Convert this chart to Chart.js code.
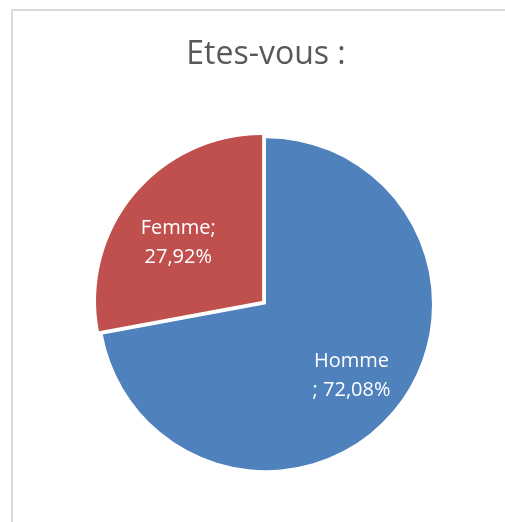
<!DOCTYPE html>
<html lang="fr">
<head>
<meta charset="utf-8">
<title>Etes-vous :</title>
<script src="https://cdn.jsdelivr.net/npm/chart.js@4.4.1/dist/chart.umd.min.js"></script>
<style>
  html, body { margin: 0; padding: 0; background: #ffffff; }
  #wrap { position: relative; width: 505px; height: 522px; overflow: hidden; }
  #frame {
    position: absolute; left: 11px; top: 9px; width: 600px; height: 600px;
    border: 2px solid #d9d9d9; box-sizing: border-box;
  }
  #c { position: absolute; left: 0; top: 0; }
</style>
</head>
<body>
<div id="wrap">
  <div id="frame"></div>
  <canvas id="c" width="505" height="522"></canvas>
</div>
<script>
// Survey answers: gender split in percent
const categories = ['Homme', 'Femme'];
const shares = [72.08, 27.92];
const sliceColors = ['#4F81BD', '#C0504D'];
const pulledOut = [0, 20];            // Femme slice is pulled away from the centre
const labelLines = [['Homme', '; 72,08%'], ['Femme;', '27,92%']];

// label placement inside each slice: distance as a fraction of the radius, and a small turn in degrees
const labelDepth = [0.67, 0.615];
const labelTurn = [0, -5];

// Writes "category; value" labels inside each slice
const sliceLabels = {
  id: 'sliceLabels',
  afterDatasetsDraw(chart) {
    const ctx = chart.ctx;
    const meta = chart.getDatasetMeta(0);
    ctx.save();
    ctx.fillStyle = '#ffffff';
    ctx.font = '20px "Open Sans", Lato, sans-serif';
    ctx.textAlign = 'center';
    ctx.textBaseline = 'middle';
    meta.data.forEach((arc, i) => {
      const p = arc.getProps(['x', 'y', 'startAngle', 'endAngle', 'outerRadius'], true);
      const mid = (p.startAngle + p.endAngle) / 2;
      const shift = (pulledOut[i] || 0) / 4;
      const sx = p.x + Math.cos(mid) * shift;
      const sy = p.y + Math.sin(mid) * shift;
      const a = mid + labelTurn[i] * Math.PI / 180;
      const d = p.outerRadius * labelDepth[i];
      const cx = sx + Math.cos(a) * d;
      const cy = sy + Math.sin(a) * d;
      const lines = labelLines[i];
      const lh = 29;
      lines.forEach((t, k) => {
        ctx.fillText(t, cx, cy + (k - (lines.length - 1) / 2) * lh);
      });
    });
    ctx.restore();
  }
};

new Chart(document.getElementById('c'), {
  type: 'pie',
  data: {
    labels: categories,
    datasets: [{
      data: shares,
      backgroundColor: sliceColors,
      borderWidth: 0,
      offset: pulledOut,
      radius: 166
    }]
  },
  options: {
    responsive: false,
    animation: false,
    rotation: 0,
    layout: { padding: { left: 27, right: 0, top: 0, bottom: 14 } },
    plugins: {
      legend: { display: false },
      tooltip: { enabled: false },
      title: {
        display: true,
        text: 'Etes-vous :',
        color: '#595959',
        font: { family: '"Open Sans", Lato, sans-serif', size: 32, weight: 'normal', lineHeight: 1.2 },
        padding: { top: 36, bottom: 26 }
      }
    }
  },
  plugins: [sliceLabels]
});
</script>
</body>
</html>
